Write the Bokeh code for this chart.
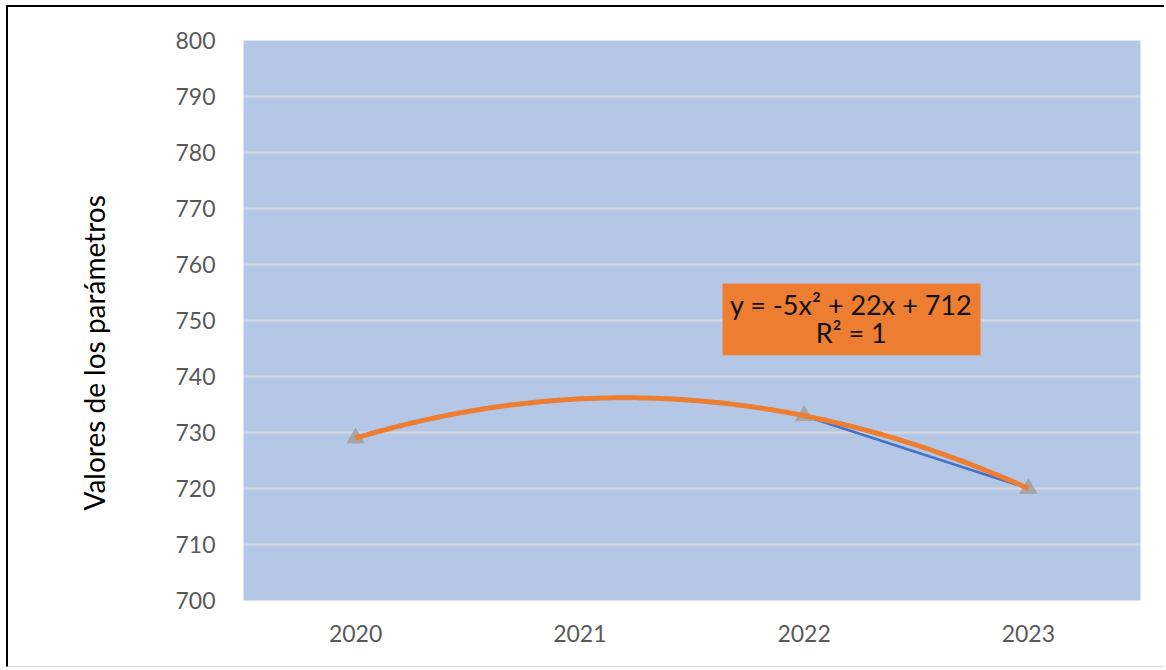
import numpy as np
from bokeh.plotting import figure
from bokeh.models import Label, BoxAnnotation, FixedTicker, Title
from bokeh.embed import file_html
from bokeh.resources import INLINE

# data
years = ["2020", "2021", "2022", "2023"]
values = [729, np.nan, 733, 720]
trend_coef = [-5, 22, 712]          # y = -5x^2 + 22x + 712
eq_text = "y = -5x\u00b2 + 22x + 712"
r2_text = "R\u00b2 = 1"
y_label = "Valores de los parámetros"

FONT = "Lato"
xs = np.arange(1, len(years) + 1)

p = figure(width=1158, height=662, output_backend="svg", toolbar_location=None,
           x_range=(0.5, len(years) + 0.5), y_range=(700, 800),
           min_border_left=235, min_border_right=26, min_border_top=33, min_border_bottom=69)
p.margin = (5, 0, 0, 6)
p.styles = {"border-top": "2px solid #000000", "border-left": "2px solid #000000",
            "border-bottom": "1px solid #d9d9d9"}
p.background_fill_color = "#B4C7E7"
p.border_fill_color = "white"
p.outline_line_color = None

p.xgrid.grid_line_color = None
p.ygrid.grid_line_color = "#D9D9D9"
p.ygrid.grid_line_width = 2
p.yaxis.ticker = FixedTicker(ticks=list(range(700, 801, 10)))
p.xaxis.ticker = FixedTicker(ticks=list(xs))
p.xaxis.major_label_overrides = {int(i): y for i, y in zip(xs, years)}

for ax in (p.xaxis[0], p.yaxis[0]):
    ax.axis_line_color = None
    ax.major_tick_line_color = None
    ax.minor_tick_line_color = None
    ax.major_label_text_font = FONT
    ax.major_label_text_font_size = "23px"
    ax.major_label_text_color = "#595959"
p.xaxis.major_label_standoff = 18
p.yaxis.major_label_standoff = 22

# y-axis title as a side title
ytitle = Title(text=y_label, align="left", offset=90, standoff=124,
               text_font=FONT, text_font_size="28px", text_font_style="normal",
               text_color="#000000")
p.add_layout(ytitle, "left")

# series
p.line(xs, values, line_color="#4472C4", line_width=2.5)
p.scatter(xs, values, marker="triangle", size=17, fill_color="#A5A5A5", line_color="#A5A5A5")

# polynomial trendline
tx = np.linspace(xs[0], xs[-1], 300)
ty = np.polyval(trend_coef, tx)
p.line(tx, ty, line_color="#ED7D31", line_width=5)

# equation label
box = BoxAnnotation(left=2.636, right=3.787, bottom=743.8, top=756.6,
                    fill_color="#ED7D31", fill_alpha=1, line_color="#F4B183", line_width=1)
p.add_layout(box)
p.add_layout(Label(x=3.21, y=752.9, text=eq_text, text_align="center", text_baseline="middle",
                   text_font=FONT, text_font_size="27px", text_color="#111111"))
p.add_layout(Label(x=3.21, y=747.9, text=r2_text, text_align="center", text_baseline="middle",
                   text_font=FONT, text_font_size="27px", text_color="#111111"))

open("out.html", "w").write(file_html(p, INLINE))
